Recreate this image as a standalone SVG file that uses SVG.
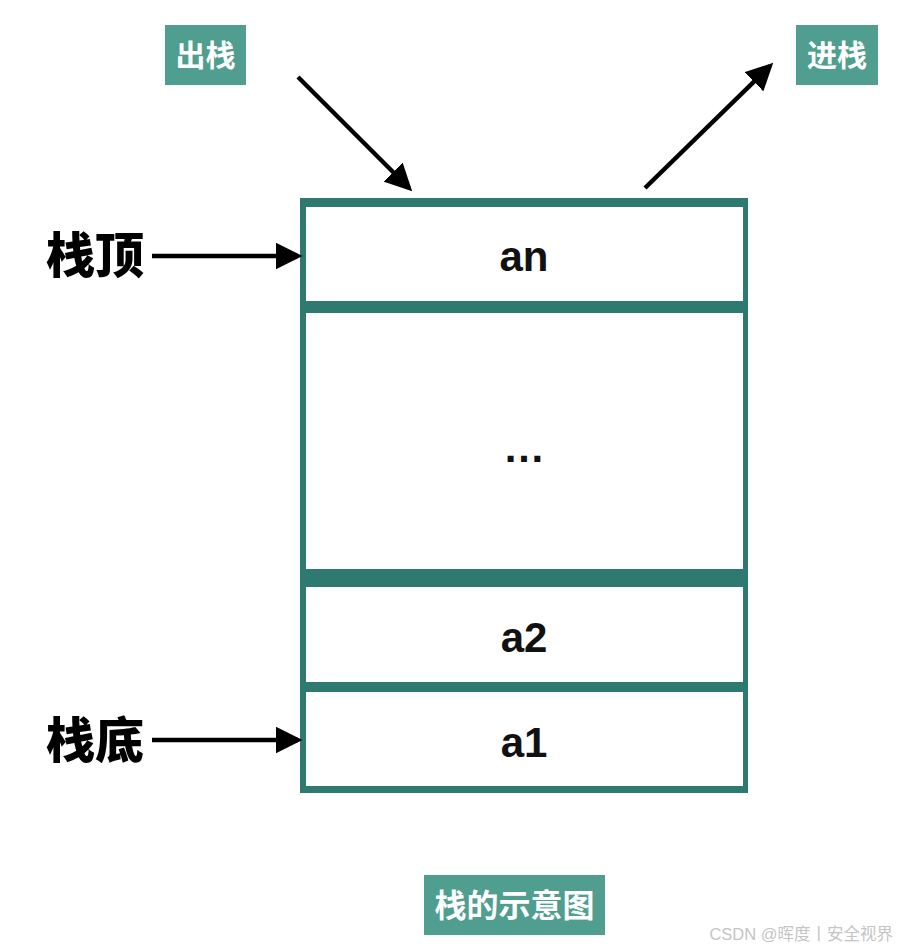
<svg xmlns="http://www.w3.org/2000/svg" width="897" height="948" viewBox="0 0 897 948">
<defs>
<style>
.tag{fill:#4f9e8f}
.tagt{font-family:"Noto Sans CJK SC","Liberation Sans",sans-serif;font-weight:700;fill:#fff;text-anchor:middle}
.cell{fill:#fff}
.val{font-family:"Liberation Sans","Noto Sans",sans-serif;font-weight:700;font-size:42px;fill:#111;text-anchor:middle}
.lbl{font-family:"Noto Sans CJK SC","Liberation Sans",sans-serif;font-weight:900;font-size:49px;fill:#000}
.arr{stroke:#000;stroke-width:4.5;fill:none}
</style>
<marker id="ah" markerWidth="6" markerHeight="6" refX="5" refY="3" orient="auto" markerUnits="strokeWidth">
<path d="M0,0 L6,3 L0,6 z" fill="#000"/>
</marker>
</defs>
<rect width="897" height="948" fill="#fff"/>
<g id="stack">
<rect x="300" y="198" width="448" height="595" fill="#2e7a71"/>
<rect class="cell" x="306" y="207" width="437" height="94"/>
<rect class="cell" x="306" y="313" width="437" height="256"/>
<rect class="cell" x="306" y="587" width="437" height="95"/>
<rect class="cell" x="306" y="692" width="437" height="94"/>
</g>
<g id="cell-an"><text class="val" x="524" y="271">an</text></g>
<g id="cell-dots"><text class="val" x="524" y="462">…</text></g>
<g id="cell-a2"><text class="val" x="524" y="652">a2</text></g>
<g id="cell-a1"><text class="val" x="524" y="757">a1</text></g>
<g id="pop"><rect class="tag" x="165" y="25" width="81" height="60"/><text class="tagt" x="205.5" y="66" font-size="30">出栈</text></g>
<g id="push"><rect class="tag" x="796" y="25" width="82" height="60"/><text class="tagt" x="837" y="66" font-size="30">进栈</text></g>
<g id="top-label"><text class="lbl" x="46" y="273">栈顶</text></g>
<g id="bottom-label"><text class="lbl" x="46" y="758">栈底</text></g>
<g id="caption"><rect class="tag" x="424" y="875" width="181" height="60"/><text class="tagt" x="514.5" y="917" font-size="32">栈的示意图</text></g>
<g id="connectors">
<line class="arr" x1="152" y1="256" x2="298" y2="256" marker-end="url(#ah)"/>
<line class="arr" x1="152" y1="740" x2="298" y2="740" marker-end="url(#ah)"/>
<line class="arr" x1="298" y1="77" x2="409" y2="188" marker-end="url(#ah)"/>
<line class="arr" x1="645" y1="188" x2="770" y2="66" marker-end="url(#ah)"/>
</g>
<text x="893" y="940" text-anchor="end" font-family="'Liberation Sans','Noto Sans CJK SC',sans-serif" font-size="16.5" fill="#c4c4c4">CSDN @晖度丨安全视界</text>
</svg>
